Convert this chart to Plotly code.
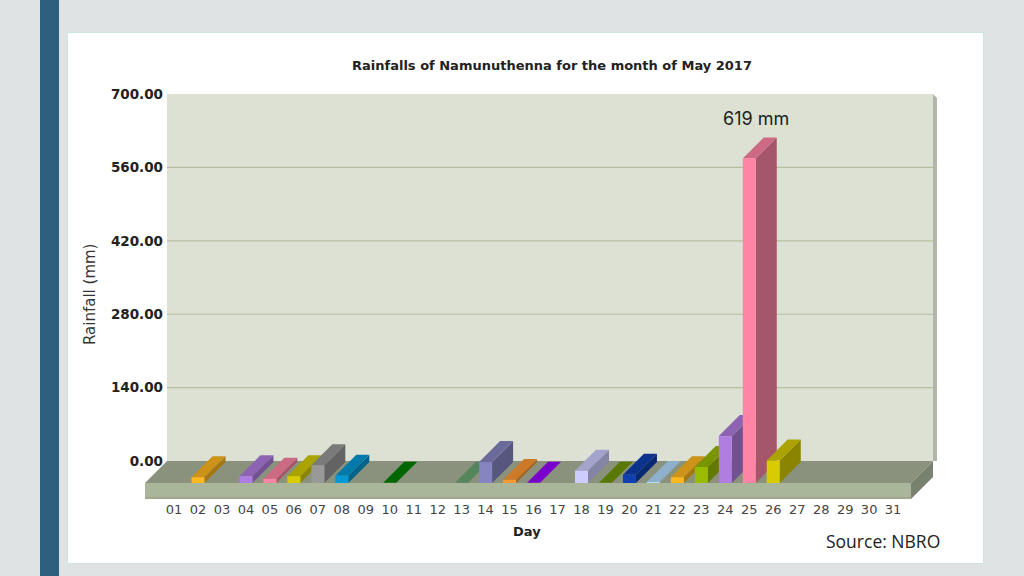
import plotly.graph_objects as go

# ---- data ----
days = [f"{d:02d}" for d in range(1, 32)]
bar_days = [2, 4, 5, 6, 7, 8, 10, 13, 14, 15, 16, 18, 19, 20, 21, 22, 23, 24, 25, 26]
rain_mm = [11, 13, 8, 13, 34, 14, 0.5, 0.5, 40, 6, 0.5, 23.5, 0.5, 16, 2, 11, 30.5, 89.5, 619, 43]
y_ticks = [0, 140, 280, 420, 560, 700]
y_labels = ["0.00", "140.00", "280.00", "420.00", "560.00", "700.00"]
bar_colors = ["#ffb81f", "#b07de0", "#ff85a5", "#d6cc00", "#999999", "#0099d6", "#008000",
              "#6aa775", "#8585c2", "#ff9933", "#9900ff", "#ccccff", "#6f9600", "#0f3fb0",
              "#b3dcff", "#ffb81f", "#99bb00", "#b07de0", "#ff85a5", "#d6cc00"]

# ---- scale helpers (pixels per unit of the chart's own axes) ----
PX_PER_DAY = 23.97
PX_PER_MM = 0.525
L, R, T, B = 145, 937, 94, 499


def day_at(x):
    return 1 + (x - 174) / PX_PER_DAY


X0, X1 = day_at(L), day_at(R)
WALL_L, WALL_R = day_at(167), day_at(933)
Y0 = -(B - 461) / PX_PER_MM
DEPTH_X = 22 / PX_PER_DAY      # floor depth in day units
DEPTH_Y = 22 / PX_PER_MM       # floor depth in mm units
BAR_W = 13 / PX_PER_DAY
BAR_DX = 21 / PX_PER_DAY
BAR_DY = 21 / PX_PER_MM


def shade(hex_color, k):
    r, g, b = (int(hex_color[i:i + 2], 16) for i in (1, 3, 5))
    return f"rgb({int(r * k)},{int(g * k)},{int(b * k)})"


def poly(xs, ys, color):
    return go.Scatter(x=xs + xs[:1], y=ys + ys[:1], mode="lines", fill="toself",
                      fillcolor=color, line=dict(width=0), hoverinfo="skip",
                      showlegend=False)


def px(x):
    return (x - L) / (R - L)


def py(y):
    return (B - y) / (B - T)


fig = go.Figure()

# right edge of the wall
fig.add_trace(poly([WALL_R, X1, X1, WALL_R], [700, 700 - 4 / PX_PER_MM, 0, 0], "#b1b6ab"))

# floor slab
fl, fr = WALL_L - DEPTH_X, WALL_R - DEPTH_X
fb = -DEPTH_Y
slab = 16 / PX_PER_MM
lip = 2 / PX_PER_MM
fig.add_trace(poly([fl, fr, WALL_R, WALL_L], [fb, fb, 0, 0], "#8a927d"))
fig.add_trace(poly([fl, fr, fr, fl], [fb, fb, fb - slab, fb - slab], "#aab699"))
fig.add_trace(poly([fl, fr, fr, fl], [fb - slab + lip, fb - slab + lip, fb - slab, fb - slab], "#9ea98e"))
fig.add_trace(poly([fr, WALL_R, WALL_R, fr], [fb, 0, -slab, fb - slab], "#78826f"))

# bars, left to right so later bars overlap earlier ones
for d, v, c in zip(bar_days, rain_mm, bar_colors):
    x_l, x_r = d - BAR_W / 2, d + BAR_W / 2
    top = fb + v
    fig.add_trace(poly([x_r, x_r + BAR_DX, x_r + BAR_DX, x_r],
                       [fb, fb + BAR_DY, top + BAR_DY, top], shade(c, 0.65)))
    fig.add_trace(poly([x_l, x_r, x_r + BAR_DX, x_l + BAR_DX],
                       [top, top, top + BAR_DY, top + BAR_DY], shade(c, 0.8)))
    fig.add_trace(poly([x_l, x_r, x_r, x_l], [fb, fb, top, top], c))

# slide background pieces, in pixel positions converted to paper fractions
deco = [
    (40, 0, 59, 576, "#2f5f7e"),
    (59, 0, 60, 576, "#cfe3e6"),
    (67, 32, 984, 564, "#cbe6e1"),
    (68, 33, 983, 563, "#ffffff"),
]
shapes = [
    dict(type="rect", xref="paper", yref="paper", x0=px(a), y0=py(b), x1=px(c), y1=py(d),
         line_width=0, fillcolor=col, layer="below") for a, b, c, d, col in deco
]
shapes.append(dict(type="rect", xref="x", yref="y", x0=WALL_L, x1=WALL_R, y0=0, y1=700,
                   line_width=0, fillcolor="#dce1d4", layer="below"))
# grid lines stop at the wall, so they are drawn across the wall only
for t in y_ticks[1:-1]:
    shapes.append(dict(type="line", xref="x", yref="y", x0=WALL_L, x1=WALL_R, y0=t, y1=t,
                       line=dict(color="#b4bf9f", width=1.2), layer="below"))

fig.update_layout(
    width=1024, height=576, autosize=False,
    margin=dict(l=L, r=1024 - R, t=T, b=576 - B, pad=0),
    paper_bgcolor="#dfe3e3", plot_bgcolor="rgba(0,0,0,0)", showlegend=False,
    title=dict(text="Rainfalls of Namunuthenna for the month of May 2017",
               x=552 / 1024, xanchor="center", y=1 - 65 / 576, yanchor="middle",
               font=dict(family="DejaVu Sans", size=13, color="#222222", weight=700)),
    xaxis=dict(range=[X0, X1], tickvals=list(range(1, 32)), ticktext=days,
               showgrid=False, zeroline=False, showline=False, ticks="", ticklabelstandoff=1,
               tickfont=dict(family="DejaVu Sans", size=13, color="#444444")),
    yaxis=dict(range=[Y0, 700], tickvals=y_ticks, ticktext=y_labels, showgrid=False,
               zeroline=False, showline=False, ticks="", ticklabelstandoff=-19,
               tickfont=dict(family="DejaVu Sans", size=13.5, color="#222222", weight=700)),
    shapes=shapes,
    annotations=[
        dict(text="Day", xref="paper", yref="paper", x=px(527), y=py(531), xanchor="center",
             yanchor="middle", showarrow=False,
             font=dict(family="DejaVu Sans", size=13, color="#222222", weight=700)),
        dict(text="Rainfall (mm)", xref="paper", yref="paper", x=px(90), y=py(295), xanchor="center",
             yanchor="middle", textangle=-90, showarrow=False,
             font=dict(family="DejaVu Sans", size=15, color="#333333")),
        dict(text="619 mm", xref="x", yref="y", x=25.3, y=653, showarrow=False,
             font=dict(family="Inter", size=18, color="#222222")),
        dict(text="Source: NBRO", xref="paper", yref="paper",
             x=px(883), y=py(541), xanchor="center", yanchor="middle", showarrow=False,
             font=dict(family="Open Sans", size=17.5, color="#222222")),
    ],
)

fig.write_html("out.html", post_script="document.body.style.margin='0';",
               config=dict(displayModeBar=False))
